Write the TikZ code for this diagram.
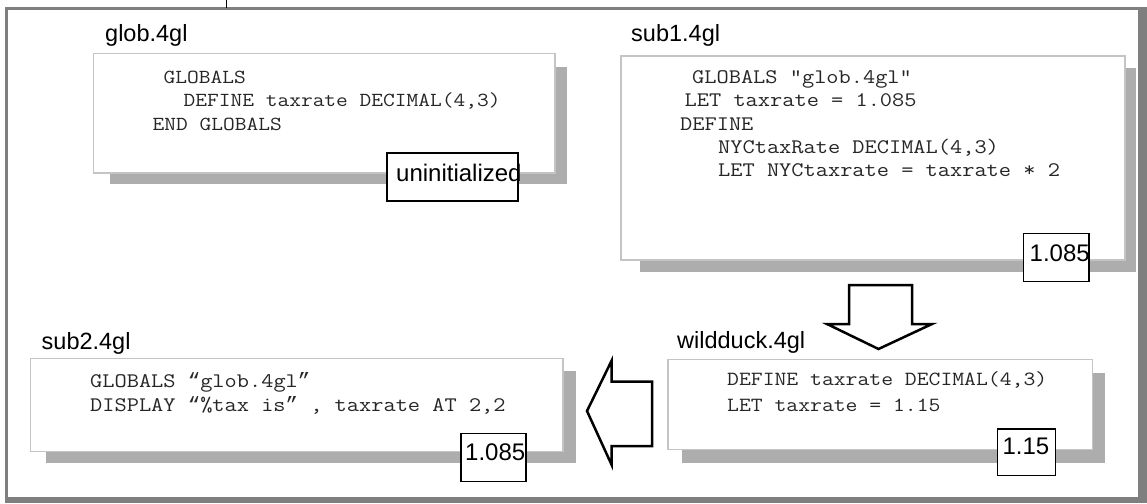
\documentclass[tikz,border=0pt]{standalone}
\usepackage{fontspec}
\setmainfont{Liberation Sans}
\newfontfamily\codefont{Latin Modern Mono}[FakeStretch=1.145]
\newfontfamily\quotefont{Liberation Mono}
\newcommand{\myopenq}{{\quotefont “}}
\newcommand{\mycloseq}{{\quotefont ”}}
\definecolor{framegray}{HTML}{7F7F7F}
\definecolor{shadowgray}{HTML}{ADADAD}
\definecolor{panelborder}{HTML}{C4C4C4}
\begin{document}
\begin{tikzpicture}[x=1pt,y=-1pt,
  panel/.style={draw=panelborder, line width=1.2pt, fill=white, inner sep=0pt, outer sep=0pt, anchor=north west},
  shadowbox/.style={fill=shadowgray},
  valbox/.style={draw=black, line width=1.3pt, fill=white, inner sep=0pt, outer sep=0pt, anchor=north west},
  valtext/.style={font=\fontsize{24}{28}\selectfont, inner sep=0pt, anchor=base west},
  filelabel/.style={font=\fontsize{23.5}{28}\selectfont, inner sep=0pt, anchor=base west},
  codeA/.style={font=\codefont\fontsize{19.9}{23}\selectfont, inner sep=0pt, anchor=base west, text=black!85},
  codeB/.style={font=\codefont\fontsize{20.7}{24}\selectfont, inner sep=0pt, anchor=base west, text=black!85},
  codeC/.style={font=\codefont\fontsize{20.1}{24}\selectfont, inner sep=0pt, anchor=base west, text=black!85},
  blockarrow/.style={draw=black, line width=2.5pt, fill=white, line join=miter},
]
\useasboundingbox (0,0) rectangle (1147,503);
% outer frame
\fill[framegray] (5,7) rectangle (1147,503);
\fill[white] (8,10.5) rectangle (1137.5,497);
\coordinate (tickTop) at (226.7,0);
\coordinate (tickBot) at (226.7,8.5);
\draw[line width=1pt] (tickTop) -- (tickBot);

% shadows
\fill[shadowbox] (110,66.7) rectangle (566.7,184.3);
\fill[shadowbox] (640,68) rectangle (1136,271.7);
\fill[shadowbox] (45.5,371) rectangle (576,462.5);
\fill[shadowbox] (682,372.7) rectangle (1104.7,462.7);

% panels
\node[panel, minimum width=461.7pt, minimum height=119.7pt] (glob) at (93.3,53.3) {};
\node[panel, minimum width=504pt, minimum height=204pt] (sub1) at (621,56) {};
\node[panel, minimum width=532.3pt, minimum height=93.2pt] (sub2) at (30.7,358.5) {};
\node[panel, minimum width=424.5pt, minimum height=90.2pt] (wild) at (668,359.3) {};

% file labels
\node[filelabel] (globlbl) at (105,41.7) {glob.4gl};
\node[filelabel] (sub1lbl) at (631,41.7) {sub1.4gl};
\node[filelabel] (sub2lbl) at (41.5,349.3) {sub2.4gl};
\node[filelabel] (wildlbl) at (677,348.3) {wildduck.4gl};

% code glob
\node[codeA] (g1) at (163.5,83.5) {GLOBALS};
\node[codeA] (g2) at (183.5,106.7) {DEFINE taxrate DECIMAL(4,3)};
\node[codeA] (g3) at (152.5,130) {END GLOBALS};

% code sub1
\node[codeB] (s1) at (692,83.3) {GLOBALS "glob.4gl"};
\node[codeB] (s2) at (684.5,106) {LET taxrate = 1.085};
\node[codeB] (s3) at (680,130) {DEFINE};
\node[codeB] (s4) at (718,153.3) {NYCtaxRate DECIMAL(4,3)};
\node[codeB] (s5) at (718,176.7) {LET NYCtaxrate = taxrate * 2};

% code sub2
\node[codeB] (t1) at (90,387.7) {GLOBALS \myopenq glob.4gl\mycloseq};
\node[codeB] (t2) at (90,411) {DISPLAY \myopenq\%tax is\mycloseq{} , taxrate AT 2,2};

% code wildduck
\node[codeC] (w1) at (727,385.5) {DEFINE taxrate DECIMAL(4,3)};
\node[codeC] (w2) at (727,411) {LET taxrate = 1.15};

% value boxes
\node[valbox, minimum width=131pt, minimum height=48pt] (vglob) at (387,153) {};
\node[valtext] (vglobt) at (396,181.7) {uninitialized};
\node[valbox, minimum width=65.7pt, minimum height=48.4pt] (vsub1) at (1023.3,233.3) {};
\node[valtext] (vsub1t) at (1029.5,261.7) {1.085};
\node[valbox, minimum width=65pt, minimum height=48.4pt] (vsub2) at (461,433.3) {};
\node[valtext] (vsub2t) at (465,460) {1.085};
\node[valbox, minimum width=57.9pt, minimum height=46.7pt] (vwild) at (997.7,429) {};
\node[valtext] (vwildt) at (1002.4,454) {1.15};

% block arrows
\draw[blockarrow] (849,285) -- (912,285) -- (912,324) -- (932,324) -- (878.5,349) -- (827,324) -- (849,324) -- cycle;
\draw[blockarrow] (587,411) -- (611.7,360.5) -- (611.7,381.7) -- (652,381.7) -- (652,446) -- (611.7,446) -- (611.7,465) -- cycle;
\end{tikzpicture}
\end{document}
